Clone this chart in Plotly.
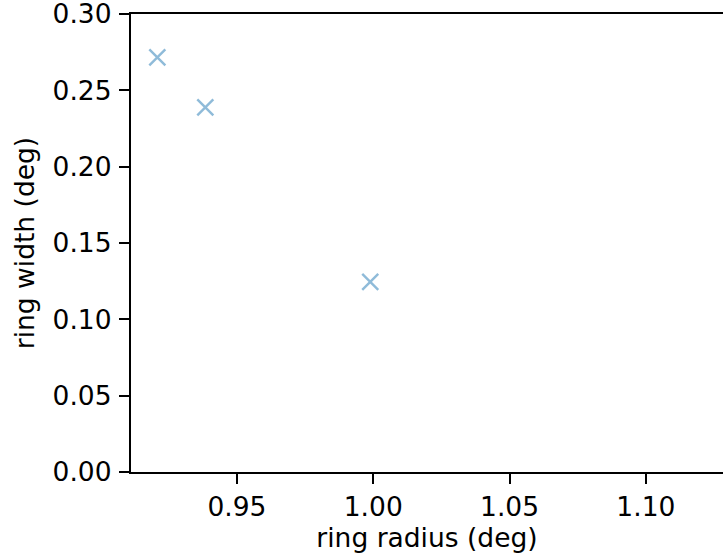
import plotly.graph_objects as go

ring_radius = [0.9208, 0.9384, 0.9989]
ring_width = [0.2716, 0.2389, 0.1245]
x_ticks = [0.95, 1.00, 1.05, 1.10]
x_tick_labels = ["0.95", "1.00", "1.05", "1.10"]
y_ticks = [0.00, 0.05, 0.10, 0.15, 0.20, 0.25, 0.30]
y_tick_labels = ["0.00", "0.05", "0.10", "0.15", "0.20", "0.25", "0.30"]

font = "DejaVu Sans"
fs = 26.5
fig = go.Figure()
fig.add_trace(go.Scatter(
    x=ring_radius, y=ring_width, mode="markers",
    marker=dict(symbol="x-thin-open", size=16, color="rgba(31,119,180,0.5)",
                line=dict(width=2.4, color="rgba(31,119,180,0.5)")),
    showlegend=False, cliponaxis=False,
))
fig.update_layout(
    width=723, height=555,
    margin=dict(l=131, r=0, t=14, b=83, autoexpand=False),
    paper_bgcolor="white", plot_bgcolor="white",
    font=dict(family=font, size=fs, color="black"),
    xaxis=dict(range=[0.91114, 1.1283], tickvals=x_ticks, ticktext=x_tick_labels,
               showgrid=False, zeroline=False, showline=True, linecolor="black",
               linewidth=2.2, mirror=True, ticks="outside", ticklen=10, tickwidth=2.2,
               tickcolor="black", ticklabelstandoff=0, automargin=False,
               ticklabeloverflow="allow",
               tickfont=dict(family=font, size=fs, color="black"),
               title=dict(text="ring radius (deg)", standoff=8,
                          font=dict(family=font, size=fs, color="black"))),
    yaxis=dict(range=[-0.00001, 0.30002], tickvals=y_ticks, ticktext=y_tick_labels,
               showgrid=False, zeroline=False, showline=True, linecolor="black",
               linewidth=2.2, mirror=False, ticks="outside", ticklen=10, tickwidth=2.2,
               tickcolor="black", ticklabelstandoff=2, automargin=False,
               ticklabeloverflow="allow",
               tickfont=dict(family=font, size=fs, color="black"),
               title=dict(text="ring width (deg)", standoff=10,
                          font=dict(family=font, size=fs, color="black"))),
)
fig.write_html("out.html", config={"displayModeBar": False},
               post_script="document.body.style.margin='0';document.body.style.overflow='hidden';")
